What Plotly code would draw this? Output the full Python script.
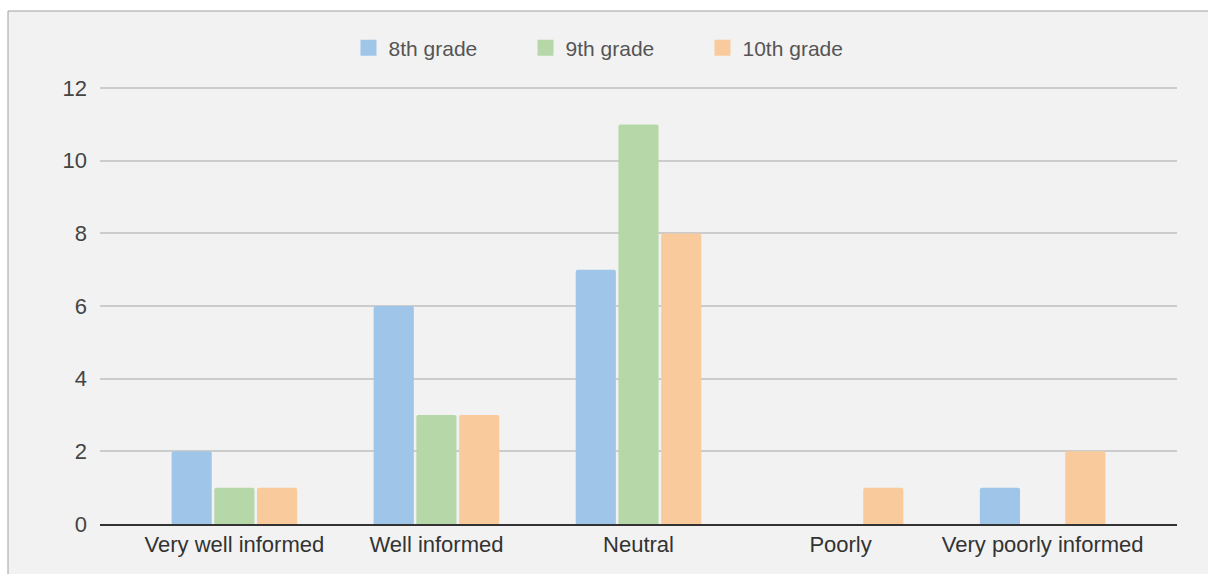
import plotly.graph_objects as go

# Survey responses by grade
categories = ["Very well informed", "Well informed", "Neutral", "Poorly", "Very poorly informed"]
grade8 = [2, 6, 7, 0, 1]
grade9 = [1, 3, 11, 0, 0]
grade10 = [1, 3, 8, 1, 2]
series_names = ["8th grade", "9th grade", "10th grade"]
series_colors = ["#9fc5e8", "#b6d7a8", "#f9cb9c"]
y_ticks = [0, 2, 4, 6, 8, 10, 12]

W, H = 1208, 574
L, R, T, B = 100, 31, 87, 50
pw, ph = W - L - R, H - T - B

font = "Liberation Sans, Arial, sans-serif"

fig = go.Figure()
for name, vals, col in zip(series_names, [grade8, grade9, grade10], series_colors):
    fig.add_trace(go.Bar(
        name=name, x=categories, y=vals, legendgroup=name, showlegend=False,
        marker=dict(color=col, line=dict(width=0), cornerradius=2),
    ))
    # legend entry with a larger square swatch
    fig.add_trace(go.Scatter(
        name=name, x=[None], y=[None], mode="markers", legendgroup=name,
        marker=dict(symbol="square", size=16, color=col, line=dict(width=0)),
        hoverinfo="skip",
    ))

# panel background with thin border, positioned in pixels
def px_x(p):
    return (p - L) / pw

def px_y(p):
    return (H - B - p) / ph

fig.add_shape(type="rect", xref="paper", yref="paper", layer="below",
              x0=px_x(8), x1=px_x(W + 20), y0=px_y(H + 20), y1=px_y(11),
              fillcolor="#f2f2f2", line=dict(color="#a0a0a0", width=1))

fig.update_layout(
    width=W, height=H,
    margin=dict(l=L, r=R, t=T, b=B),
    paper_bgcolor="white",
    plot_bgcolor="rgba(0,0,0,0)",
    barmode="group",
    bargap=0.366,
    bargroupgap=0.06,
    font=dict(family=font, size=22, color="#444444"),
    legend=dict(
        orientation="h", x=px_x(614), xanchor="center",
        y=px_y(48), yanchor="middle",
        font=dict(family=font, size=21, color="#555555"),
        bgcolor="rgba(0,0,0,0)",
        entrywidthmode="pixels", entrywidth=132,
        itemsizing="trace",
        itemclick=False,
    ),
    xaxis=dict(
        range=[-0.665, 4.665],
        showgrid=False, ticks="", ticklabelstandoff=0,
        tickfont=dict(family=font, size=22, color="#333333"),
        showline=True, linecolor="#333333", linewidth=1.5,
        zeroline=False,
    ),
    yaxis=dict(
        range=[0, 12.03], tickvals=y_ticks,
        showgrid=True, gridcolor="#cccccc", gridwidth=1.5,
        zeroline=False, showline=False, ticks="",
        ticklabelstandoff=12,
        tickfont=dict(family=font, size=22, color="#444444"),
    ),
)

fig.write_html("out.html")
